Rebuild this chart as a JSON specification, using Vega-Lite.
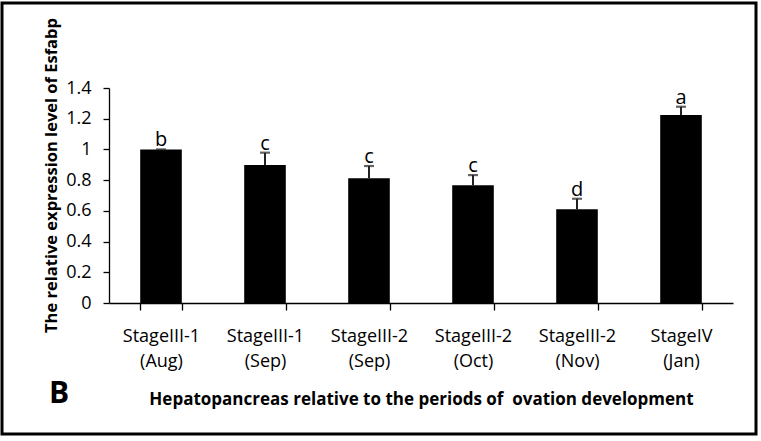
{
  "$schema": "https://vega.github.io/schema/vega-lite/v6.json",
  "width": 754,
  "height": 431,
  "autosize": {"type": "none"},
  "padding": {"left": 2, "top": 3, "right": 5, "bottom": 7},
  "background": "#ffffff",
  "config": {
    "view": {"stroke": "#000000", "strokeWidth": 3},
    "font": "Open Sans"
  },
  "title": {
    "text": "B",
    "orient": "bottom",
    "anchor": "start",
    "frame": "group",
    "font": "Open Sans",
    "fontSize": 30,
    "fontWeight": "bold",
    "color": "#000000",
    "baseline": "alphabetic",
    "offset": -31,
    "dx": 47
  },
  "data": {
    "values": [
      {"cat": "StageIII-1|(Aug)", "value": 1.0, "hi": 1.0, "letter": "b"},
      {"cat": "StageIII-1|(Sep)", "value": 0.899, "hi": 0.979, "letter": "c"},
      {"cat": "StageIII-2|(Sep)", "value": 0.812, "hi": 0.892, "letter": "c"},
      {"cat": "StageIII-2|(Oct)", "value": 0.766, "hi": 0.833, "letter": "c"},
      {"cat": "StageIII-2|(Nov)", "value": 0.61, "hi": 0.679, "letter": "d"},
      {"cat": "StageIV|(Jan)", "value": 1.224, "hi": 1.278, "letter": "a"}
    ]
  },
  "encoding": {
    "x": {
      "field": "cat",
      "type": "nominal",
      "sort": null,
      "scale": {"range": [107, 731], "paddingInner": 0.6, "paddingOuter": 0.3},
      "axis": {
        "title": "Hepatopancreas relative to the periods of\u00a0 ovation development",
        "titleFont": "Open Sans",
        "titleFontSize": 17,
        "titleFontWeight": "bold",
        "titleColor": "#000000",
        "titleBaseline": "alphabetic",
        "titleY": 101,
        "offset": -131,
        "labelAngle": 0,
        "labelExpr": "split(datum.label, '|')",
        "labelFont": "Open Sans",
        "labelFontSize": 18,
        "labelColor": "#000000",
        "labelBaseline": "alphabetic",
        "labelLineHeight": 25,
        "labelPadding": 31,
        "tickBand": "extent",
        "tickSize": 7,
        "tickColor": "#000000",
        "domainColor": "#000000",
        "domainWidth": 1.3,
        "tickWidth": 1.3
      }
    }
  },
  "layer": [
    {
      "mark": {"type": "bar", "color": "#000000"},
      "encoding": {
        "y": {
          "field": "value",
          "type": "quantitative",
          "scale": {"domain": [0, 1.4], "range": [300, 85], "nice": false},
          "axis": {
            "title": "The relative expression level of Esfabp",
            "titleFont": "Open Sans",
            "titleFontSize": 16.5,
            "titleFontWeight": "bold",
            "titleColor": "#000000",
            "titleBaseline": "alphabetic",
            "titleAngle": 270,
            "titleX": -53,
            "titleY": 172,
            "titleAlign": "center",
            "offset": -107,
            "values": [0, 0.2, 0.4, 0.6, 0.8, 1, 1.2, 1.4],
            "format": ".2~f",
            "grid": false,
            "labelFont": "Open Sans",
            "labelFontSize": 18,
            "labelColor": "#000000",
            "labelPadding": 12,
            "tickSize": 6,
            "tickColor": "#000000",
            "domainColor": "#000000",
            "domainWidth": 1.3,
            "tickWidth": 1.3
          }
        }
      }
    },
    {
      "mark": {"type": "rule", "color": "#222222", "strokeWidth": 2},
      "encoding": {
        "y": {"field": "value", "type": "quantitative"},
        "y2": {"field": "hi"}
      }
    },
    {
      "mark": {"type": "tick", "color": "#222222", "size": 10, "thickness": 2.2},
      "encoding": {
        "y": {"field": "hi", "type": "quantitative"}
      }
    },
    {
      "mark": {"type": "text", "font": "Open Sans", "fontSize": 20, "color": "#000000", "baseline": "alphabetic", "dy": -3},
      "encoding": {
        "y": {"field": "hi", "type": "quantitative"},
        "text": {"field": "letter"}
      }
    }
  ]
}
